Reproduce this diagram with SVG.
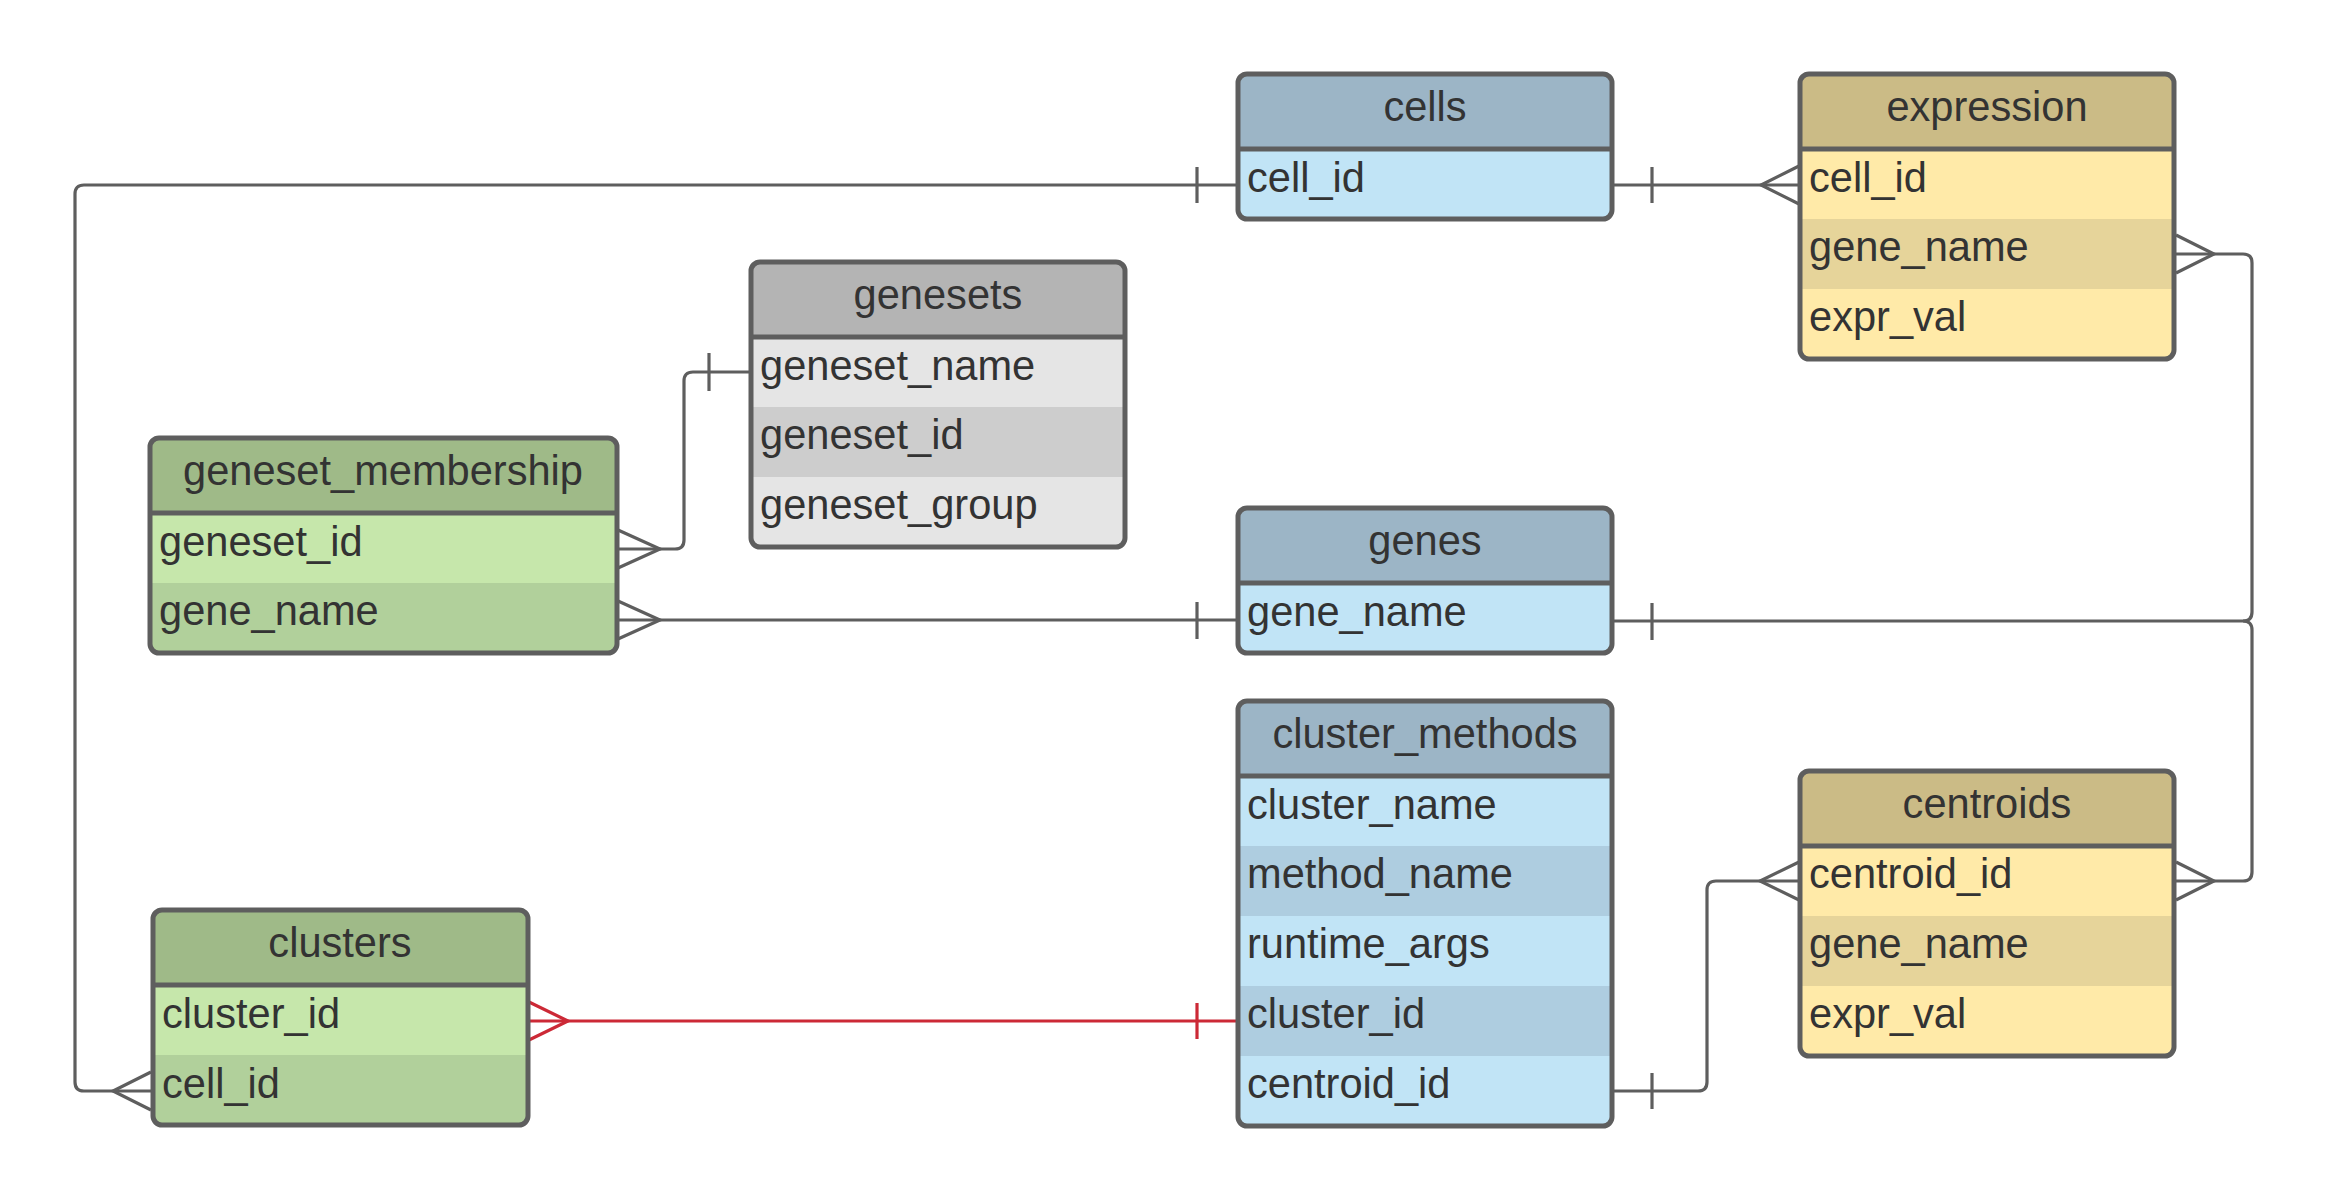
<svg xmlns="http://www.w3.org/2000/svg" width="2329" height="1200" viewBox="0 0 2329 1200">
  <style>
    .txt { font-family: "Liberation Sans", Arial, sans-serif; font-size: 41.6px; fill: #333333; }
    .hd { text-anchor: middle; }
    .frame { fill: none; stroke: #5e5e5e; stroke-width: 5; }
    .div { stroke: #5e5e5e; stroke-width: 5; }
    .conn { fill: none; stroke: #5e5e5e; stroke-width: 3.2; }
    .red { stroke: #cc2936; }
    .bh { fill: #9cb5c6; } .b1 { fill: #c1e4f6; } .b2 { fill: #aecde0; }
    .yh { fill: #cbbb86; } .y1 { fill: #ffeaa8; } .y2 { fill: #e6d49a; }
    .gh { fill: #b4b4b4; } .g1 { fill: #e5e5e5; } .g2 { fill: #cdcdcd; }
    .vh { fill: #9fba88; } .v1 { fill: #c6e7ab; } .v2 { fill: #b1d09b; }
  </style>
  <defs>
    <clipPath id="c-cells"><rect x="1238" y="74" width="374" height="145" rx="9"/></clipPath>
    <clipPath id="c-expr"><rect x="1800" y="74" width="374" height="285" rx="9"/></clipPath>
    <clipPath id="c-gsets"><rect x="751" y="262" width="374" height="285" rx="9"/></clipPath>
    <clipPath id="c-gsm"><rect x="150" y="438" width="467" height="215" rx="9"/></clipPath>
    <clipPath id="c-genes"><rect x="1238" y="508" width="374" height="145" rx="9"/></clipPath>
    <clipPath id="c-cm"><rect x="1238" y="701" width="374" height="425" rx="9"/></clipPath>
    <clipPath id="c-cent"><rect x="1800" y="771" width="374" height="285" rx="9"/></clipPath>
    <clipPath id="c-clu"><rect x="153" y="910" width="375" height="215" rx="9"/></clipPath>
  </defs>
  <rect width="2329" height="1200" fill="#ffffff"/>

  <!-- relationships -->
  <g id="connectors">
    <!-- cells.cell_id to clusters.cell_id -->
    <path class="conn" d="M1236,185 H84 Q75,185 75,194 V1082 Q75,1091 84,1091 H151"/>
    <path class="conn" d="M1197,167 V203"/>
    <path class="conn" d="M151,1072 L113,1091 L151,1110"/>
    <!-- cells.cell_id to expression.cell_id -->
    <path class="conn" d="M1613,185 H1799"/>
    <path class="conn" d="M1652,167 V203"/>
    <path class="conn" d="M1799,166 L1761,185 L1799,204"/>
    <!-- genes.gene_name to expression.gene_name -->
    <path class="conn" d="M1613,621 H2243 Q2252,621 2252,612 V263 Q2252,254 2243,254 H2176"/>
    <path class="conn" d="M1652,603 V640"/>
    <path class="conn" d="M2176,235 L2214,254 L2176,273"/>
    <!-- genes.gene_name to centroids -->
    <path class="conn" d="M2243,621 Q2252,621 2252,630 V872 Q2252,881 2243,881 H2176"/>
    <path class="conn" d="M2176,862 L2214,881 L2176,900"/>
    <!-- genesets.geneset_name to geneset_membership.geneset_id -->
    <path class="conn" d="M750,372 H693 Q684,372 684,381 V540 Q684,549 675,549 H618"/>
    <path class="conn" d="M709,353 V391"/>
    <path class="conn" d="M618,530 L660,549 L618,568"/>
    <!-- geneset_membership.gene_name to genes.gene_name -->
    <path class="conn" d="M618,620 H1236"/>
    <path class="conn" d="M618,601 L660,620 L618,639"/>
    <path class="conn" d="M1197,602 V639"/>
    <!-- clusters.cluster_id to cluster_methods.cluster_id -->
    <path class="conn red" d="M529,1021 H1236"/>
    <path class="conn red" d="M529,1002 L568,1021 L529,1040"/>
    <path class="conn red" d="M1197,1003 V1039"/>
    <!-- cluster_methods.centroid_id to centroids.centroid_id -->
    <path class="conn" d="M1613,1091 H1698 Q1707,1091 1707,1082 V890 Q1707,881 1716,881 H1799"/>
    <path class="conn" d="M1652,1073 V1109"/>
    <path class="conn" d="M1799,862 L1760,881 L1799,900"/>
  </g>

  <g id="cells">
    <g clip-path="url(#c-cells)">
      <rect class="bh" x="1238" y="74" width="374" height="75"/>
      <rect class="b1" x="1238" y="149" width="374" height="70"/>
    </g>
    <line class="div" x1="1238" y1="149" x2="1612" y2="149"/>
    <rect class="frame" x="1238" y="74" width="374" height="145" rx="9"/>
    <text class="txt hd" x="1425" y="121">cells</text>
    <text class="txt" x="1247" y="192">cell_id</text>
  </g>

  <g id="expression">
    <g clip-path="url(#c-expr)">
      <rect class="yh" x="1800" y="74" width="374" height="75"/>
      <rect class="y1" x="1800" y="149" width="374" height="70"/>
      <rect class="y2" x="1800" y="219" width="374" height="70"/>
      <rect class="y1" x="1800" y="289" width="374" height="70"/>
    </g>
    <line class="div" x1="1800" y1="149" x2="2174" y2="149"/>
    <rect class="frame" x="1800" y="74" width="374" height="285" rx="9"/>
    <text class="txt hd" x="1987" y="121">expression</text>
    <text class="txt" x="1809" y="192">cell_id</text>
    <text class="txt" x="1809" y="261">gene_name</text>
    <text class="txt" x="1809" y="331">expr_val</text>
  </g>

  <g id="genesets">
    <g clip-path="url(#c-gsets)">
      <rect class="gh" x="751" y="262" width="374" height="75"/>
      <rect class="g1" x="751" y="337" width="374" height="70"/>
      <rect class="g2" x="751" y="407" width="374" height="70"/>
      <rect class="g1" x="751" y="477" width="374" height="70"/>
    </g>
    <line class="div" x1="751" y1="337" x2="1125" y2="337"/>
    <rect class="frame" x="751" y="262" width="374" height="285" rx="9"/>
    <text class="txt hd" x="938" y="309">genesets</text>
    <text class="txt" x="760" y="380">geneset_name</text>
    <text class="txt" x="760" y="449">geneset_id</text>
    <text class="txt" x="760" y="519">geneset_group</text>
  </g>

  <g id="geneset_membership">
    <g clip-path="url(#c-gsm)">
      <rect class="vh" x="150" y="438" width="467" height="75"/>
      <rect class="v1" x="150" y="513" width="467" height="70"/>
      <rect class="v2" x="150" y="583" width="467" height="70"/>
    </g>
    <line class="div" x1="150" y1="513" x2="617" y2="513"/>
    <rect class="frame" x="150" y="438" width="467" height="215" rx="9"/>
    <text class="txt hd" x="383" y="485">geneset_membership</text>
    <text class="txt" x="159" y="556">geneset_id</text>
    <text class="txt" x="159" y="625">gene_name</text>
  </g>

  <g id="genes">
    <g clip-path="url(#c-genes)">
      <rect class="bh" x="1238" y="508" width="374" height="75"/>
      <rect class="b1" x="1238" y="583" width="374" height="70"/>
    </g>
    <line class="div" x1="1238" y1="583" x2="1612" y2="583"/>
    <rect class="frame" x="1238" y="508" width="374" height="145" rx="9"/>
    <text class="txt hd" x="1425" y="555">genes</text>
    <text class="txt" x="1247" y="626">gene_name</text>
  </g>

  <g id="cluster_methods">
    <g clip-path="url(#c-cm)">
      <rect class="bh" x="1238" y="701" width="374" height="75"/>
      <rect class="b1" x="1238" y="776" width="374" height="70"/>
      <rect class="b2" x="1238" y="846" width="374" height="70"/>
      <rect class="b1" x="1238" y="916" width="374" height="70"/>
      <rect class="b2" x="1238" y="986" width="374" height="70"/>
      <rect class="b1" x="1238" y="1056" width="374" height="70"/>
    </g>
    <line class="div" x1="1238" y1="776" x2="1612" y2="776"/>
    <rect class="frame" x="1238" y="701" width="374" height="425" rx="9"/>
    <text class="txt hd" x="1425" y="748">cluster_methods</text>
    <text class="txt" x="1247" y="819">cluster_name</text>
    <text class="txt" x="1247" y="888">method_name</text>
    <text class="txt" x="1247" y="958">runtime_args</text>
    <text class="txt" x="1247" y="1028">cluster_id</text>
    <text class="txt" x="1247" y="1098">centroid_id</text>
  </g>

  <g id="centroids">
    <g clip-path="url(#c-cent)">
      <rect class="yh" x="1800" y="771" width="374" height="75"/>
      <rect class="y1" x="1800" y="846" width="374" height="70"/>
      <rect class="y2" x="1800" y="916" width="374" height="70"/>
      <rect class="y1" x="1800" y="986" width="374" height="70"/>
    </g>
    <line class="div" x1="1800" y1="846" x2="2174" y2="846"/>
    <rect class="frame" x="1800" y="771" width="374" height="285" rx="9"/>
    <text class="txt hd" x="1987" y="818">centroids</text>
    <text class="txt" x="1809" y="888">centroid_id</text>
    <text class="txt" x="1809" y="958">gene_name</text>
    <text class="txt" x="1809" y="1028">expr_val</text>
  </g>

  <g id="clusters">
    <g clip-path="url(#c-clu)">
      <rect class="vh" x="153" y="910" width="375" height="75"/>
      <rect class="v1" x="153" y="985" width="375" height="70"/>
      <rect class="v2" x="153" y="1055" width="375" height="70"/>
    </g>
    <line class="div" x1="153" y1="985" x2="528" y2="985"/>
    <rect class="frame" x="153" y="910" width="375" height="215" rx="9"/>
    <text class="txt hd" x="340" y="957">clusters</text>
    <text class="txt" x="162" y="1028">cluster_id</text>
    <text class="txt" x="162" y="1098">cell_id</text>
  </g>
</svg>
